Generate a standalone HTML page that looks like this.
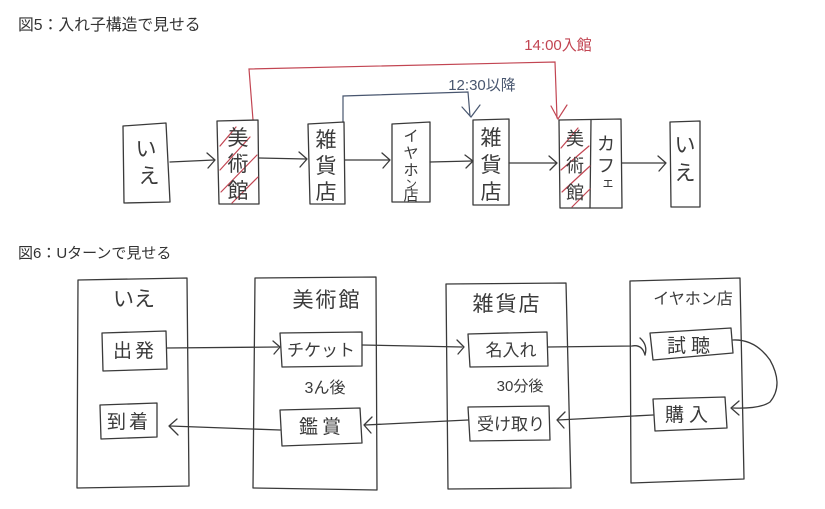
<!DOCTYPE html>
<html>
<head>
<meta charset="utf-8">
<style>
html,body{margin:0;padding:0;background:#fff;}
svg{display:block;}
text{font-family:"Liberation Sans","Noto Sans CJK JP",sans-serif;}
.t{fill:#333;font-size:15px;}
.h{fill:#3a3a3a;text-anchor:middle;}
.b{fill:none;stroke:#3a3a3a;stroke-width:1.3;stroke-linejoin:round;stroke-linecap:round;}
.r{fill:none;stroke:#c24552;stroke-width:1.2;stroke-linecap:round;}
.u{fill:none;stroke:#48566f;stroke-width:1.2;stroke-linecap:round;}
</style>
</head>
<body>
<svg width="825" height="509" viewBox="0 0 825 509" xmlns="http://www.w3.org/2000/svg">
<rect width="825" height="509" fill="#fff"/>

<!-- Titles -->
<text class="t" x="18" y="30" style="font-size:15.8px;">図5：入れ子構造で見せる</text>
<text class="t" x="18" y="258">図6：Uターンで見せる</text>

<!-- ===== Figure 5 ===== -->
<path class="r" d="M253,120 L249,69 L555,62 L557,118"/>
<path class="r" d="M551,106 L558,119 L567,105"/>
<text x="558" y="50" style="fill:#c24552;font-size:15px;text-anchor:middle;">14:00入館</text>

<path class="u" d="M343,122 L343,96 L468,92 L470,116"/>
<path class="u" d="M462,107 L471,117 L480,105"/>
<text x="482" y="90" style="fill:#48566f;font-size:15px;text-anchor:middle;">12:30以降</text>

<path class="b" d="M123,126 L166,123 L170,202 L124,203 Z"/>
<path class="b" d="M217,121 L258,120 L259,204 L219,204 Z"/>
<path class="b" d="M308,124 L344,122 L345,204 L310,204 Z"/>
<path class="b" d="M392,124 L430,122 L430,202 L392,202 Z"/>
<path class="b" d="M473,120 L509,119 L509,205 L473,205 Z"/>
<path class="b" d="M559,120 L621,119 L622,208 L560,208 Z"/>
<path class="b" d="M591,120 L590,208"/>
<path class="b" d="M670,122 L700,121 L700,207 L671,207 Z"/>

<g class="r">
<path d="M220,146 L236,127"/>
<path d="M220,170 L250,137"/>
<path d="M221,192 L257,155"/>
<path d="M232,203 L258,177"/>
<path d="M561,148 L578,128"/>
<path d="M561,170 L589,146"/>
<path d="M562,192 L590,166"/>
<path d="M572,207 L590,189"/>
</g>

<path class="b" d="M170,162 L214,160"/><path class="b" d="M207,153 L215,160 L208,168"/>
<path class="b" d="M259,158 L306,159"/><path class="b" d="M299,152 L307,159 L300,167"/>
<path class="b" d="M345,160 L389,160"/><path class="b" d="M382,153 L390,160 L383,168"/>
<path class="b" d="M430,162 L472,161"/><path class="b" d="M465,155 L473,161 L466,168"/>
<path class="b" d="M509,163 L556,163"/><path class="b" d="M549,156 L557,163 L550,170"/>
<path class="b" d="M622,163 L665,163"/><path class="b" d="M658,156 L666,163 L659,171"/>

<g class="h" style="font-size:21px;">
<text x="146" y="156">い</text><text x="149" y="183">え</text>
<text x="238" y="145">美</text><text x="238" y="171">術</text><text x="238" y="198">館</text>
<text x="326" y="147">雑</text><text x="326" y="173">貨</text><text x="326" y="199">店</text>
<text x="491" y="145">雑</text><text x="491" y="172">貨</text><text x="491" y="199">店</text>
<text x="685" y="152">い</text><text x="685" y="180">え</text>
</g>
<g class="h" style="font-size:18px;">
<text x="575" y="145">美</text><text x="575" y="172">術</text><text x="575" y="199">館</text>
<text x="606" y="150">カ</text><text x="606" y="172">フ</text><text x="608" y="187" style="font-size:13px;">ェ</text>
</g>
<g class="h" style="font-size:15px;">
<text x="411" y="141">イ</text><text x="411" y="158">ヤ</text><text x="411" y="175">ホ</text><text x="411" y="188" style="font-size:12px;">ン</text><text x="411" y="200">店</text>
</g>

<!-- ===== Figure 6 ===== -->
<path class="b" d="M78,280 L187,278 L189,486 L77,488 Z"/>
<path class="b" d="M255,278 L376,277 L377,490 L253,488 Z"/>
<path class="b" d="M446,284 L566,283 L571,488 L448,489 Z"/>
<path class="b" d="M630,281 L740,278 L744,479 L631,483 Z"/>

<g class="h" style="font-size:21px;">
<text x="134" y="306">いえ</text>
<text x="327" y="307" style="letter-spacing:2px;">美術館</text>
<text x="507" y="311" style="letter-spacing:2px;">雑貨店</text>
</g>
<text class="h" x="693" y="304" style="font-size:16px;">イヤホン店</text>

<path class="b" d="M102,333 L166,331 L167,369 L103,371 Z"/>
<path class="b" d="M100,405 L157,403 L157,437 L101,439 Z"/>
<path class="b" d="M280,333 L362,332 L362,366 L282,367 Z"/>
<path class="b" d="M280,410 L360,408 L362,443 L282,446 Z"/>
<path class="b" d="M468,334 L547,332 L548,366 L470,367 Z"/>
<path class="b" d="M468,407 L549,406 L550,440 L470,441 Z"/>
<path class="b" d="M650,333 L731,328 L733,353 L653,360 Z"/>
<path class="b" d="M653,399 L725,397 L727,428 L655,431 Z"/>

<g class="h" style="font-size:19px;">
<text x="135" y="357" style="letter-spacing:3px;">出発</text>
<text x="129" y="428" style="letter-spacing:3px;">到着</text>
<text x="321" y="356" style="font-size:17px;">チケット</text>
<text x="322" y="433" style="letter-spacing:4px;">鑑賞</text>
<text x="511" y="356" style="font-size:17px;">名入れ</text>
<text x="511" y="430" style="font-size:17px;">受け取り</text>
<text x="691" y="352" style="letter-spacing:5px;">試聴</text>
<text x="689" y="421" style="letter-spacing:5px;">購入</text>
</g>
<text class="h" x="325" y="393" style="font-size:16px;">3ん後</text>
<text class="h" x="520" y="391" style="font-size:15px;">30分後</text>

<path class="b" d="M167,348 L278,347"/><path class="b" d="M273,341 L280,347 L274,354"/>
<path class="b" d="M362,345 L462,347"/><path class="b" d="M457,340 L464,347 L458,354"/>
<path class="b" d="M548,347 L632,346 Q642,344 645,355"/><path class="b" d="M640,338 Q648,345 645,355"/>
<path class="b" d="M733,340 Q755,339 770,360 Q784,385 770,402 Q760,409 733,408"/>
<path class="b" d="M739,401 L731,408 L739,415"/>
<path class="b" d="M653,415 L558,420"/><path class="b" d="M565,412 L557,420 L564,428"/>
<path class="b" d="M468,420 L365,425"/><path class="b" d="M372,417 L364,425 L371,433"/>
<path class="b" d="M280,430 L170,426"/><path class="b" d="M177,419 L169,426 L178,435"/>
</svg>
</body>
</html>
